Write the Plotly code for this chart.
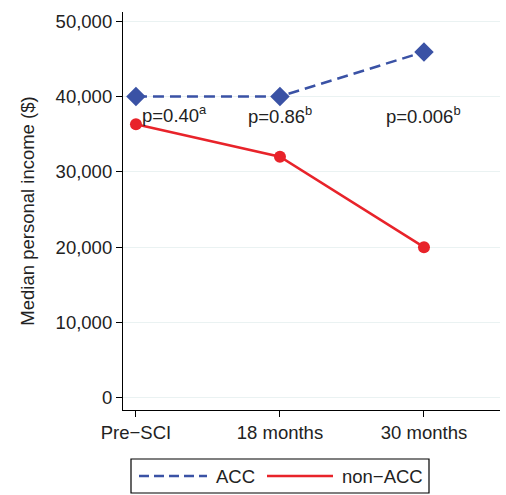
import plotly.graph_objects as go

categories = ["Pre\u2212SCI", "18 months", "30 months"]
acc = [40000, 40000, 45900]
non_acc = [36300, 32000, 20000]
p_labels = ["p=0.40<sup>a</sup>", "p=0.86<sup>b</sup>", "p=0.006<sup>b</sup>"]
y_ticks = [0, 10000, 20000, 30000, 40000, 50000]
series_names = ["ACC", "non\u2212ACC"]

x_idx = list(range(len(categories)))
font = "Liberation Sans, Arial, sans-serif"
blue = "#3a52a5"
red = "#e8232a"
FS = 18.5
DASH = "11px,6px"

# plot area in pixels
L, R, T, B = 123, 500, 12, 410
W, H = 506, 495


def px(xp):
    return (xp - L) / (R - L)


def py(yp):
    return (B - yp) / (B - T)


fig = go.Figure()
fig.add_trace(go.Scatter(
    x=x_idx, y=acc, name=series_names[0], mode="lines+markers", showlegend=False,
    line=dict(color=blue, width=2.5, dash=DASH),
    marker=dict(symbol="diamond", size=15, color=blue),
))
fig.add_trace(go.Scatter(
    x=x_idx, y=non_acc, name=series_names[1], mode="lines+markers", showlegend=False,
    line=dict(color=red, width=2.5),
    marker=dict(symbol="circle", size=12, color=red),
))

ann_x = [0.27, 1.0, 2.0]
ann_y = [37700, 37600, 37600]
for xi, yi, t in zip(ann_x, ann_y, p_labels):
    fig.add_annotation(x=xi, y=yi, text=t, showarrow=False,
                       font=dict(family=font, size=FS, color="#222"))

# custom legend (box, line samples, labels)
fig.add_shape(type="rect", xref="paper", yref="paper",
              x0=px(131), x1=px(429), y0=py(493), y1=py(459),
              line=dict(color="black", width=1.2), fillcolor="white")
fig.add_shape(type="line", xref="paper", yref="paper",
              x0=px(139), x1=px(207), y0=py(476), y1=py(476),
              line=dict(color=blue, width=2.5, dash="10px,5px"))
fig.add_shape(type="line", xref="paper", yref="paper",
              x0=px(267), x1=px(333), y0=py(476), y1=py(476),
              line=dict(color=red, width=2.5))
fig.add_annotation(xref="paper", yref="paper", x=px(214), y=py(476),
                   xanchor="left", yanchor="middle", text=series_names[0],
                   showarrow=False, font=dict(family=font, size=FS, color="#222"))
fig.add_annotation(xref="paper", yref="paper", x=px(340), y=py(476),
                   xanchor="left", yanchor="middle", text=series_names[1],
                   showarrow=False, font=dict(family=font, size=FS, color="#222"))

fig.update_layout(
    width=W, height=H,
    margin=dict(l=L, r=W - R, t=T, b=H - B, autoexpand=False),
    paper_bgcolor="white", plot_bgcolor="white",
    font=dict(family=font, size=FS, color="#222"),
    showlegend=False,
)
fig.update_xaxes(
    range=[-0.09, 2.528], tickmode="array", tickvals=x_idx, ticktext=categories,
    showline=True, linecolor="black", linewidth=1.2, ticks="outside", ticklen=6,
    tickcolor="black", showgrid=False, zeroline=False, automargin=False,
    tickfont=dict(size=FS),
)
fig.update_yaxes(
    range=[-1600, 51200], tickmode="array", tickvals=y_ticks,
    ticktext=[f"{v:,}" for v in y_ticks],
    showline=True, linecolor="black", linewidth=1.2, ticks="outside", ticklen=6,
    tickcolor="black", showgrid=True, gridcolor="#eaf2f2", gridwidth=1, zeroline=False,
    automargin=False,
    title=dict(text="Median personal income ($)", font=dict(size=FS), standoff=16),
    tickfont=dict(size=FS),
)

fig.write_html("out.html")
